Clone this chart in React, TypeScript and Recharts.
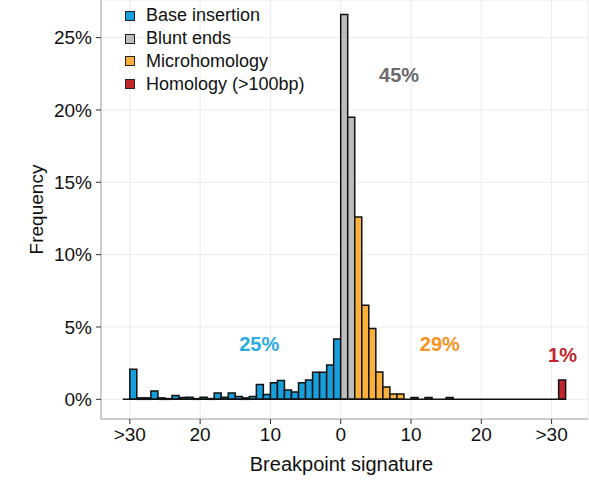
import { BarChart, Bar, Cell, XAxis, YAxis, CartesianGrid, Legend, ReferenceLine, ReferenceDot } from 'recharts';

// breakpoint bins, histogram of 1 bp wide bins starting at -31 (left side = base insertion)
const firstBin = -31;
const baseInsertion = [
  0, 2.07, 0.1, 0.1, 0.58, 0.1, 0.05, 0.26, 0.12, 0.15, 0.05, 0.15, 0.05, 0.43, 0.15, 0.44,
  0.2, 0.1, 0.2, 1.02, 0.33, 1.15, 1.3, 0.64, 0.5, 1.15, 1.33, 1.87, 1.87, 2.37, 4.17,
];
const bluntEnds = [26.6, 19.5];
const microhomology = [
  12.6, 6.5, 4.9, 1.88, 0.85, 0.37, 0.37, 0, 0.12, 0, 0.12, 0, 0, 0.12, 0,
  0, 0, 0, 0, 0, 0, 0, 0, 0, 0, 0, 0, 0, 0,
];
const homology = [1.33];

const categories = ['Base insertion', 'Blunt ends', 'Microhomology', 'Homology (>100bp)'];
const barColors = ['#169fda', '#bdbdbd', '#fbb03b', '#c1272d'];
const labelColors = ['#29abe2', '#6b6b6b', '#f7931e', '#c1272d'];

// share of each class, written on the panel
const shareLabels = ['25%', '45%', '29%', '1%'];
const shareX = [-11.6, 8.3, 14.1, 31.55];
const shareY = [3.8, 22.4, 3.85, 3.06];

const xTicks = [-30, -20, -10, 0, 10, 20, 30];
const yTicks = [0, 5, 10, 15, 20, 25];

const groups = [baseInsertion, bluntEnds, microhomology, homology];
const data: { x: number; freq: number; cat: number }[] = [];
let bin = firstBin;
groups.forEach((vals, cat) => {
  vals.forEach((v) => {
    data.push({ x: bin + 0.5, freq: v, cat });
    bin += 1;
  });
});
const lastBin = bin;

const font = '"Liberation Sans", Arial, Helvetica, sans-serif';
const ink = '#111';

function YTitle({ viewBox }: any) {
  const x = (viewBox?.x ?? 0) + 36;
  const y = (viewBox?.y ?? 0) + (viewBox?.height ?? 419) / 2;
  return (
    <text x={x} y={y} transform={`rotate(-90, ${x}, ${y})`} textAnchor="middle" dominantBaseline="central" fontSize={19} fill={ink}>
      Frequency
    </text>
  );
}

function KeyList() {
  return (
    <div style={{ fontSize: 18, color: ink, fontFamily: font }}>
      {categories.map((name, i) => (
        <div key={name} style={{ display: 'flex', alignItems: 'center', height: 22.7, whiteSpace: 'nowrap' }}>
          <span
            style={{
              display: 'inline-block',
              boxSizing: 'border-box',
              width: 10,
              height: 10,
              background: barColors[i],
              border: '1.6px solid #222',
              marginRight: 11,
            }}
          />
          {name}
        </div>
      ))}
    </div>
  );
}

export default function App() {
  return (
    <div style={{ position: 'absolute', left: 0, top: 0, fontFamily: font }}>
      <BarChart width={589} height={486} data={data} margin={{ top: 0, right: 1, bottom: 0, left: 0 }} barCategoryGap={0} barGap={0}>
        <CartesianGrid stroke="#ececec" />
        <XAxis
          dataKey="x"
          type="number"
          domain={[-34.1, 35.18]}
          allowDataOverflow
          ticks={xTicks}
          tickFormatter={(v: number) => (Math.abs(v) >= 30 ? '>30' : String(Math.abs(v)))}
          height={67}
          tickSize={5}
          tickMargin={4}
          stroke="#a6a6a6"
          tickLine={{ stroke: '#333' }}
          tick={{ fill: ink, fontSize: 19 }}
          label={{ value: 'Breakpoint signature', position: 'insideBottom', offset: 15, dx: -3, fontSize: 20, fill: ink }}
        />
        <YAxis
          type="number"
          domain={[-1.36, 27.6]}
          allowDataOverflow
          ticks={yTicks}
          tickFormatter={(v: number) => `${v}%`}
          width={101}
          tickSize={5}
          tickMargin={4}
          stroke="#a6a6a6"
          tickLine={{ stroke: '#333' }}
          tick={{ fill: ink, fontSize: 19 }}
          label={<YTitle />}
        />
        <Legend
          layout="vertical"
          align="center"
          verticalAlign="middle"
          wrapperStyle={{ top: 4.6, left: 125, width: 'auto', height: 'auto' }}
          content={() => <KeyList />}
        />
        <Bar dataKey="freq" stroke={ink} strokeWidth={1.5} isAnimationActive={false}>
          {data.map((d, i) => (
            <Cell key={i} fill={barColors[d.cat]} />
          ))}
        </Bar>
        <ReferenceLine segment={[{ x: firstBin, y: 0 }, { x: lastBin, y: 0 }]} stroke={ink} strokeWidth={1.5} />
        {shareLabels.map((t, i) => (
          <ReferenceDot
            key={t}
            x={shareX[i]}
            y={shareY[i]}
            r={0}
            fill="none"
            stroke="none"
            label={{ value: t, position: 'center', fill: labelColors[i], fontSize: 20, fontWeight: 'bold' }}
          />
        ))}
      </BarChart>
    </div>
  );
}
